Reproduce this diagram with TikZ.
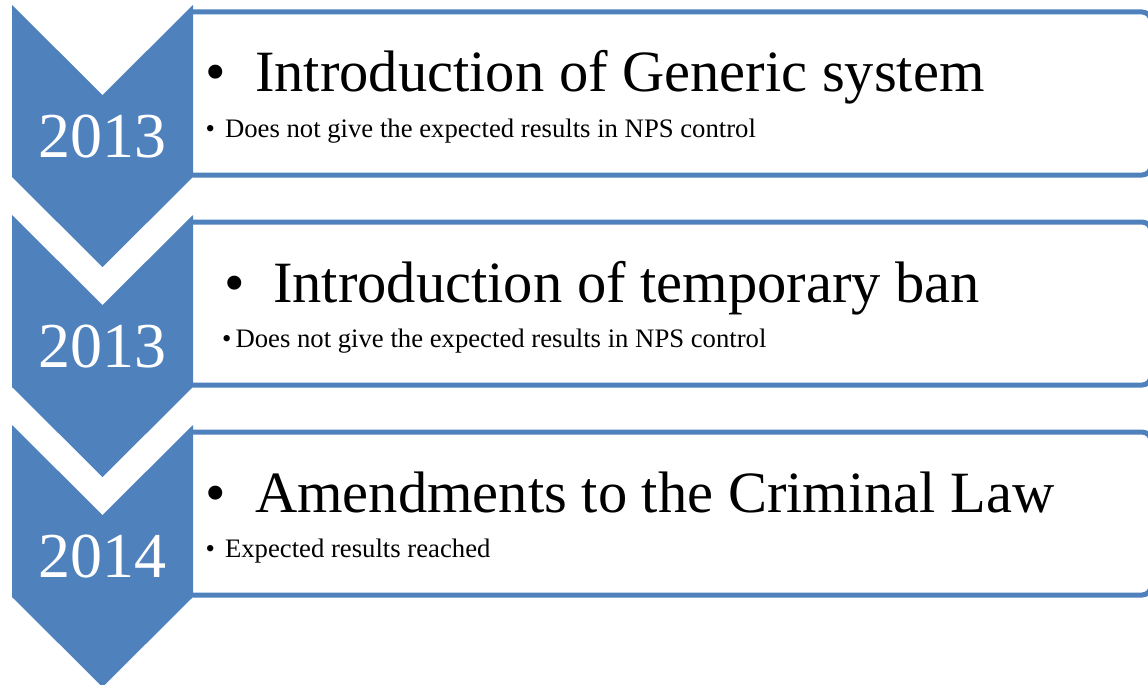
\documentclass[tikz,border=0pt]{standalone}
\usepackage{fontspec}
\setmainfont{Liberation Serif}
\definecolor{chevblue}{HTML}{4F81BD}
\begin{document}
\begin{tikzpicture}[x=1pt, y=-1pt,
    chevron/.style={fill=chevblue},
    entrybox/.style={draw=chevblue, line width=5pt, fill=white, rounded corners=9pt},
    yeartext/.style={text=white, font=\fontsize{64}{64}\selectfont, inner sep=0pt, anchor=base},
    headtext/.style={font=\fontsize{58.5}{60}\selectfont, inner sep=0pt, anchor=base west},
    subtext/.style={font=\fontsize{26.7}{28}\selectfont, inner sep=0pt, anchor=base west}]
  \useasboundingbox (0,0) rectangle (1148,685);
  \clip (0,0) rectangle (1148,685);

  \begin{scope}
    \clip (193,0) rectangle (1148,685);
    \filldraw[entrybox] (180,12) rectangle (1151,175);
    \filldraw[entrybox] (180,222) rectangle (1151,385);
    \filldraw[entrybox] (180,432) rectangle (1151,595);
  \end{scope}

  \fill[chevron] (12,5) -- ++(90.5,90) -- ++(90.5,-90) -- ++(0,172) -- ++(-90.5,90) -- ++(-90.5,-90) -- cycle;
  \fill[chevron] (12,215) -- ++(90.5,90) -- ++(90.5,-90) -- ++(0,172) -- ++(-90.5,90) -- ++(-90.5,-90) -- cycle;
  \fill[chevron] (12,425) -- ++(90.5,90) -- ++(90.5,-90) -- ++(0,172) -- ++(-90.5,90) -- ++(-90.5,-90) -- cycle;

  \node[yeartext] (year1) at (102,157) {2013};
  \node[yeartext] (year2) at (102,367) {2013};
  \node[yeartext] (year3) at (102,577) {2014};

  \node[headtext] (head1) at (205,92) {•\hspace{29.5pt}Introduction of Generic system};
  \node[subtext] (sub1) at (205.5,137) {•\hspace{10pt}Does not give the expected results in NPS control};

  \node[headtext] (head2) at (224,302) {•\hspace{28.5pt}Introduction of temporary ban};
  \node[subtext] (sub2) at (222,347) {•\hspace{4pt}Does not give the expected results in NPS control};

  \node[headtext] (head3) at (205,512) {•\hspace{29.5pt}Amendments to the Criminal Law};
  \node[subtext] (sub3) at (205.5,557) {•\hspace{10pt}Expected results reached};
\end{tikzpicture}
\end{document}
